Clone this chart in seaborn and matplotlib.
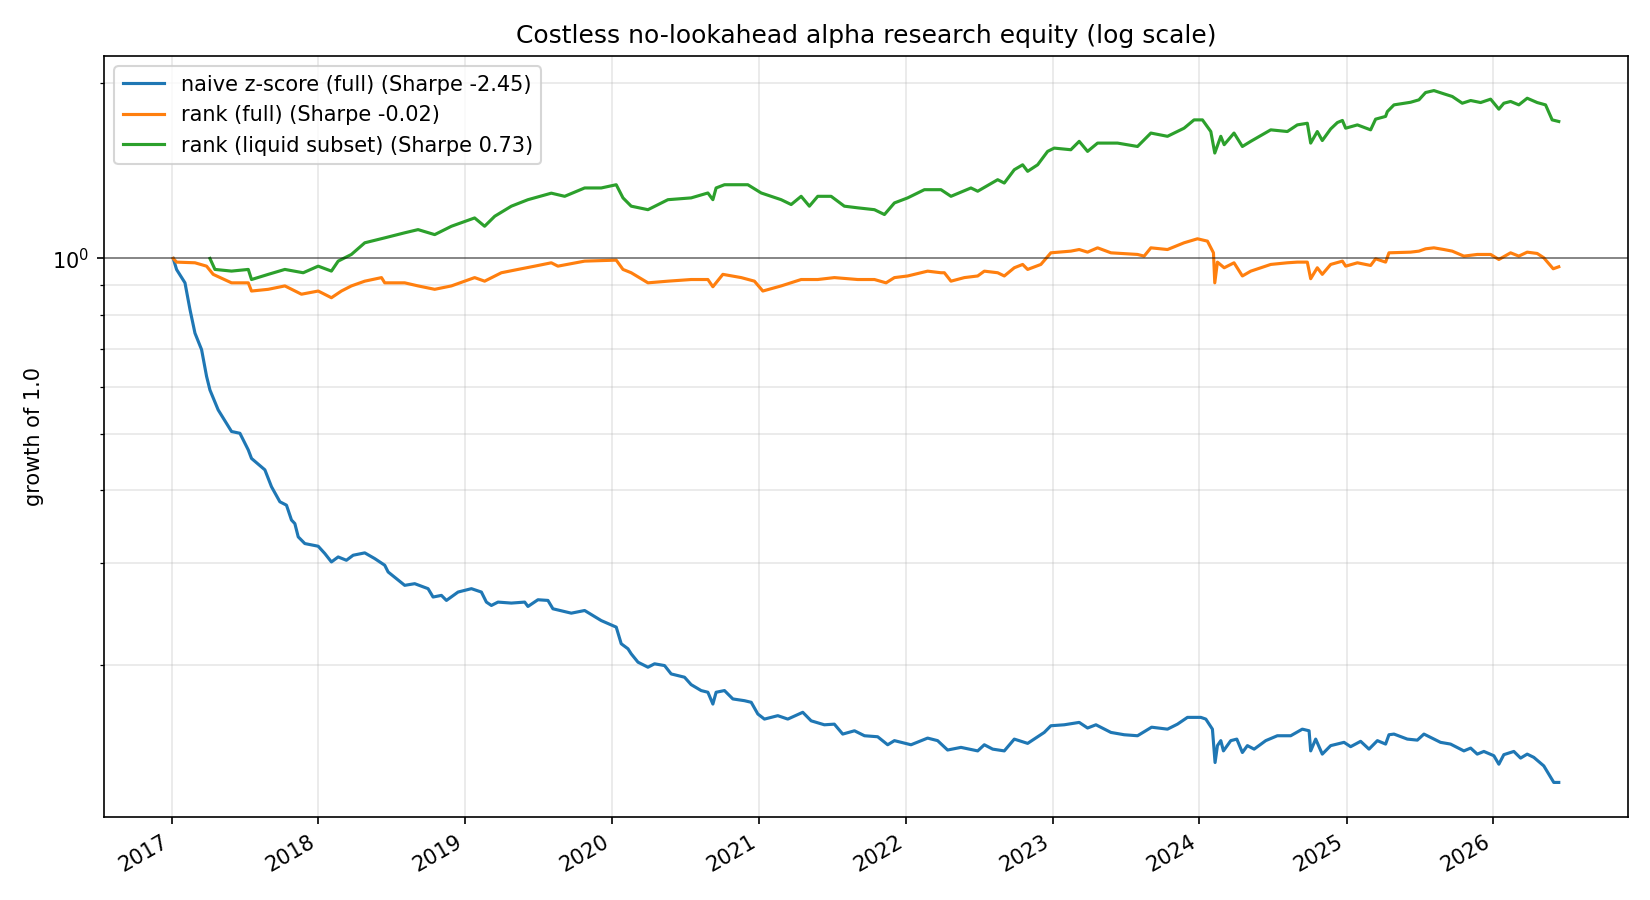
import numpy as np
import pandas as pd
import matplotlib
matplotlib.use("Agg")
import matplotlib.pyplot as plt
import seaborn as sns

# ---- data (time in years since 2017-01-01, value = growth of 1.0) ----
naive_t = [0.011, 0.034, 0.091, 0.125, 0.159, 0.204, 0.238, 0.261, 0.317, 0.408, 0.465, 0.522,
           0.544, 0.635, 0.680, 0.737, 0.782, 0.816, 0.839, 0.862, 0.907, 0.998, 1.043, 1.088,
           1.134, 1.190, 1.236, 1.315, 1.383, 1.451, 1.474, 1.587, 1.655, 1.746, 1.780, 1.837,
           1.871, 1.950, 2.041, 2.109, 2.143, 2.177, 2.222, 2.313, 2.404, 2.426, 2.494, 2.562,
           2.596, 2.721, 2.812, 2.925, 3.027, 3.061, 3.107, 3.129, 3.175, 3.243, 3.288, 3.356,
           3.401, 3.492, 3.537, 3.605, 3.651, 3.685, 3.707, 3.764, 3.821, 3.900, 3.946, 3.991,
           4.036, 4.127, 4.195, 4.297, 4.354, 4.444, 4.512, 4.569, 4.649, 4.717, 4.807, 4.875,
           4.921, 5.034, 5.147, 5.215, 5.283, 5.374, 5.488, 5.533, 5.590, 5.669, 5.737, 5.828,
           5.941, 5.986, 6.077, 6.179, 6.236, 6.293, 6.395, 6.485, 6.576, 6.672, 6.780, 6.848,
           6.916, 7.007, 7.041, 7.086, 7.104, 7.120, 7.143, 7.161, 7.211, 7.252, 7.290, 7.324,
           7.370, 7.449, 7.528, 7.619, 7.698, 7.744, 7.755, 7.789, 7.834, 7.891, 7.982, 8.027,
           8.095, 8.152, 8.209, 8.265, 8.288, 8.322, 8.413, 8.481, 8.526, 8.639, 8.707, 8.798,
           8.844, 8.889, 8.934, 9.002, 9.036, 9.070, 9.138, 9.184, 9.229, 9.274, 9.342, 9.410,
           9.444]
naive_v = [1.000, 0.957, 0.908, 0.817, 0.744, 0.697, 0.627, 0.594, 0.549, 0.504, 0.5005, 0.4685,
           0.453, 0.433, 0.405, 0.3816, 0.3765, 0.355, 0.350, 0.3321, 0.3234, 0.320, 0.3109, 0.3007,
           0.3067, 0.3027, 0.3088, 0.3117, 0.3047, 0.2968, 0.2890, 0.2741, 0.2759, 0.2705, 0.2617, 0.2634,
           0.2582, 0.2669, 0.2705, 0.2669, 0.2565, 0.2531, 0.2565, 0.2555, 0.2565, 0.2521, 0.2589, 0.2582,
           0.2498, 0.2455, 0.2481, 0.2384, 0.2323, 0.2175, 0.2132, 0.2090, 0.2022, 0.1982, 0.2009, 0.1995,
           0.1930, 0.1905, 0.1850, 0.1807, 0.1795, 0.1713, 0.1795, 0.1807, 0.1748, 0.1736, 0.1725, 0.1647,
           0.1614, 0.1636, 0.1614, 0.1658, 0.1603, 0.1578, 0.1582, 0.1521, 0.1541, 0.1511, 0.1505, 0.1458,
           0.1482, 0.1458, 0.1497, 0.1482, 0.1428, 0.1443, 0.1423, 0.1458, 0.1433, 0.1423, 0.1491, 0.1466,
           0.1531, 0.1572, 0.1578, 0.1593, 0.1558, 0.1578, 0.1531, 0.1517, 0.1511, 0.1563, 0.1551, 0.1582,
           0.1625, 0.1625, 0.1614, 0.1551, 0.1359, 0.1453, 0.1482, 0.1423, 0.1482, 0.1491, 0.1414, 0.1453,
           0.1433, 0.1482, 0.1511, 0.1511, 0.1551, 0.1541, 0.1423, 0.1491, 0.1405, 0.1453, 0.1472, 0.1447,
           0.1478, 0.1433, 0.1482, 0.1462, 0.1517, 0.1521, 0.1491, 0.1485, 0.1521, 0.1472, 0.1462, 0.1423,
           0.1439, 0.1405, 0.1420, 0.1396, 0.1350, 0.1402, 0.1420, 0.1383, 0.1405, 0.1387, 0.1341, 0.1256,
           0.1256]

rank_full_t = [0.011, 0.034, 0.159, 0.238, 0.283, 0.408, 0.522, 0.544, 0.658, 0.771, 0.884, 0.998,
               1.088, 1.156, 1.224, 1.315, 1.429, 1.451, 1.587, 1.678, 1.791, 1.905, 2.063, 2.131,
               2.245, 2.358, 2.472, 2.585, 2.630, 2.812, 3.027, 3.073, 3.129, 3.243, 3.379, 3.537,
               3.651, 3.685, 3.753, 3.878, 3.968, 4.025, 4.150, 4.286, 4.399, 4.512, 4.671, 4.785,
               4.864, 4.921, 5.011, 5.147, 5.238, 5.261, 5.306, 5.397, 5.488, 5.533, 5.624, 5.669,
               5.737, 5.794, 5.828, 5.918, 5.986, 6.122, 6.179, 6.236, 6.304, 6.395, 6.576, 6.621,
               6.667, 6.780, 6.893, 6.984, 7.052, 7.093, 7.102, 7.120, 7.166, 7.233, 7.290, 7.347,
               7.483, 7.596, 7.664, 7.732, 7.755, 7.800, 7.834, 7.891, 7.971, 7.993, 8.073, 8.163,
               8.197, 8.265, 8.288, 8.435, 8.492, 8.537, 8.594, 8.662, 8.719, 8.798, 8.889, 8.980,
               9.036, 9.116, 9.172, 9.229, 9.297, 9.342, 9.406, 9.444]
rank_full_v = [1.000, 0.9856, 0.983, 0.970, 0.939, 0.908, 0.908, 0.879, 0.885, 0.897, 0.868, 0.879,
               0.856, 0.879, 0.897, 0.914, 0.927, 0.908, 0.908, 0.897, 0.885, 0.897, 0.927, 0.914,
               0.945, 0.9575, 0.970, 0.983, 0.970, 0.9895, 0.9934, 0.9575, 0.945, 0.908, 0.914, 0.920,
               0.920, 0.894, 0.939, 0.927, 0.914, 0.879, 0.897, 0.920, 0.920, 0.927, 0.920, 0.920,
               0.908, 0.927, 0.933, 0.951, 0.945, 0.945, 0.914, 0.927, 0.933, 0.951, 0.945, 0.933,
               0.9638, 0.9766, 0.9575, 0.9766, 1.0226, 1.0294, 1.036, 1.0253, 1.043, 1.0226, 1.016, 1.0093,
               1.043, 1.036, 1.064, 1.081, 1.071, 1.0226, 0.908, 0.9856, 0.9638, 0.983, 0.933, 0.951,
               0.9766, 0.983, 0.9856, 0.9856, 0.923, 0.9638, 0.939, 0.9766, 0.9895, 0.970, 0.983, 0.9727,
               0.9987, 0.9856, 1.0226, 1.0253, 1.0294, 1.0389, 1.043, 1.036, 1.0294, 1.0093, 1.016, 1.016,
               0.996, 1.0226, 1.0093, 1.0253, 1.020, 1.0026, 0.960, 0.9676]

rank_liq_t = [0.261, 0.295, 0.408, 0.522, 0.544, 0.658, 0.771, 0.896, 0.998, 1.088, 1.134, 1.224,
              1.315, 1.451, 1.587, 1.678, 1.791, 1.905, 2.063, 2.131, 2.200, 2.313, 2.426, 2.585,
              2.676, 2.812, 2.925, 3.027, 3.073, 3.129, 3.243, 3.379, 3.537, 3.651, 3.685, 3.707,
              3.764, 3.923, 4.014, 4.150, 4.218, 4.286, 4.342, 4.399, 4.490, 4.580, 4.671, 4.785,
              4.853, 4.921, 5.011, 5.125, 5.238, 5.306, 5.442, 5.488, 5.624, 5.669, 5.737, 5.794,
              5.828, 5.896, 5.964, 6.009, 6.122, 6.179, 6.236, 6.304, 6.440, 6.576, 6.667, 6.780,
              6.893, 6.961, 7.018, 7.075, 7.102, 7.143, 7.166, 7.233, 7.290, 7.347, 7.483, 7.596,
              7.664, 7.732, 7.755, 7.800, 7.834, 7.891, 7.937, 7.971, 7.993, 8.073, 8.163, 8.197,
              8.265, 8.277, 8.322, 8.435, 8.492, 8.537, 8.594, 8.662, 8.719, 8.787, 8.844, 8.912,
              8.980, 9.036, 9.070, 9.116, 9.172, 9.229, 9.297, 9.354, 9.399, 9.444]
rank_liq_v = [1.000, 0.9575, 0.9512, 0.9575, 0.920, 0.939, 0.9575, 0.945, 0.970, 0.9512, 0.9895, 1.016,
              1.064, 1.085, 1.107, 1.121, 1.099, 1.136, 1.174, 1.136, 1.182, 1.230, 1.262, 1.295,
              1.279, 1.322, 1.322, 1.339, 1.271, 1.230, 1.213, 1.262, 1.271, 1.296, 1.262, 1.322,
              1.339, 1.339, 1.296, 1.262, 1.238, 1.279, 1.230, 1.279, 1.279, 1.230, 1.222, 1.213,
              1.190, 1.246, 1.271, 1.313, 1.313, 1.279, 1.322, 1.305, 1.366, 1.348, 1.421, 1.449,
              1.412, 1.449, 1.528, 1.548, 1.538, 1.590, 1.528, 1.579, 1.579, 1.558, 1.643, 1.622,
              1.675, 1.731, 1.731, 1.653, 1.518, 1.622, 1.569, 1.643, 1.558, 1.590, 1.664, 1.653,
              1.697, 1.708, 1.579, 1.653, 1.595, 1.670, 1.713, 1.727, 1.675, 1.697, 1.664, 1.736,
              1.755, 1.789, 1.837, 1.856, 1.874, 1.929, 1.944, 1.919, 1.899, 1.849, 1.869, 1.854,
              1.879, 1.806, 1.849, 1.862, 1.837, 1.886, 1.854, 1.837, 1.731, 1.720]

series_labels = ["naive z-score (full) (Sharpe -2.45)",
                 "rank (full) (Sharpe -0.02)",
                 "rank (liquid subset) (Sharpe 0.73)"]
series_colors = ["#1f77b4", "#ff7f0e", "#2ca02c"]
title = "Costless no-lookahead alpha research equity (log scale)"
ylabel = "growth of 1.0"
start_date = "2017-01-01"


def to_dates(t):
    return pd.Timestamp(start_date) + pd.to_timedelta(np.asarray(t) * 365.25, unit="D")


frames = []
for lab, t, v in [(series_labels[0], naive_t, naive_v),
                  (series_labels[1], rank_full_t, rank_full_v),
                  (series_labels[2], rank_liq_t, rank_liq_v)]:
    frames.append(pd.DataFrame({"date": to_dates(t), "value": v, "series": lab}))
df = pd.concat(frames, ignore_index=True)

fig, ax = plt.subplots(figsize=(11, 6), dpi=150)
sns.lineplot(data=df, x="date", y="value", hue="series", hue_order=series_labels,
             palette=series_colors, estimator=None, sort=True, linewidth=1.5, ax=ax)
ax.set_yscale("log")
ax.axhline(1.0, color="black", linewidth=0.8, alpha=0.5)
ax.grid(True, which="both", alpha=0.3)
ax.set_title(title, fontsize=12)
ax.set_xlabel("")
ax.set_ylabel(ylabel)
sns.move_legend(ax, "upper left", title=None)
fig.autofmt_xdate()
fig.subplots_adjust(left=0.063, right=0.9867, top=0.9378, bottom=0.0922)
fig.savefig("out.png", dpi=150)
